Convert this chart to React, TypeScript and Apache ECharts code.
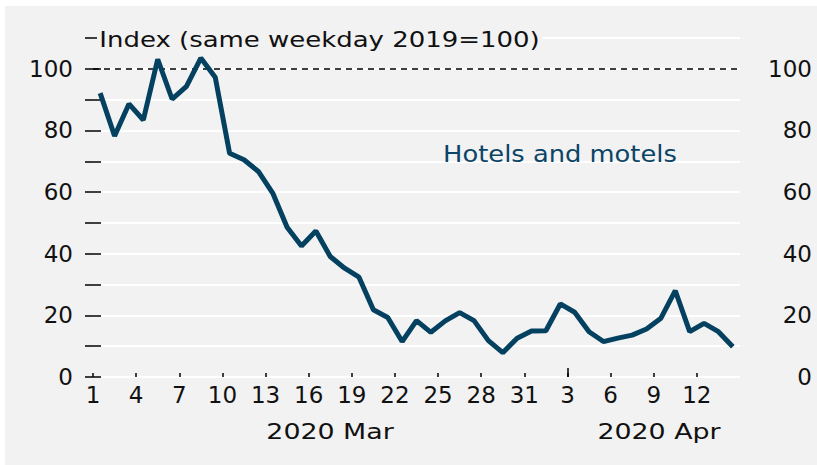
import React, { useEffect, useRef } from "react";
import * as echarts from "echarts";

const dates: string[] = [
  "2020-03-01","2020-03-02","2020-03-03","2020-03-04","2020-03-05","2020-03-06","2020-03-07","2020-03-08","2020-03-09","2020-03-10",
  "2020-03-11","2020-03-12","2020-03-13","2020-03-14","2020-03-15","2020-03-16","2020-03-17","2020-03-18","2020-03-19","2020-03-20",
  "2020-03-21","2020-03-22","2020-03-23","2020-03-24","2020-03-25","2020-03-26","2020-03-27","2020-03-28","2020-03-29","2020-03-30",
  "2020-03-31","2020-04-01","2020-04-02","2020-04-03","2020-04-04","2020-04-05","2020-04-06","2020-04-07","2020-04-08","2020-04-09",
  "2020-04-10","2020-04-11","2020-04-12","2020-04-13","2020-04-14",
];

const hotels: number[] = [
  92.1, 78.2, 88.6, 83.4, 103.1, 90.2, 94.3, 103.5, 97.3, 72.6,
  70.5, 66.7, 59.7, 48.6, 42.5, 47.4, 39.1, 35.3, 32.4, 21.8,
  19.3, 11.5, 18.3, 14.5, 18.2, 20.9, 18.3, 11.8, 7.9, 12.6,
  14.9, 15.0, 23.7, 21.0, 14.7, 11.5, 12.6, 13.6, 15.6, 19.1,
  28.0, 14.7, 17.4, 14.7, 9.8,
];

const tickDates: string[] = [
  "2020-03-01","2020-03-04","2020-03-07","2020-03-10","2020-03-13","2020-03-16","2020-03-19","2020-03-22",
  "2020-03-25","2020-03-28","2020-03-31","2020-04-03","2020-04-06","2020-04-09","2020-04-12",
];
const tickLabels: string[] = ["1","4","7","10","13","16","19","22","25","28","31","3","6","9","12"];
const monthBoundaryTick = "2020-04-03";
const monthLabels: string[] = ["2020 Mar", "2020 Apr"];
const yTickLabels: number[] = [0, 20, 40, 60, 80, 100];

const FONT = "DejaVu Sans";

export default function App() {
  const ref = useRef<HTMLDivElement>(null);
  useEffect(() => {
    if (!ref.current) return;
    const chart = echarts.init(ref.current, null, { renderer: "svg" });
    const tickPos = tickDates.map((d) => dates.indexOf(d));
    const labelMap: Record<number, string> = {};
    tickPos.forEach((p, i) => (labelMap[p] = tickLabels[i]));
    const data = hotels.map((v, i) => [i + 0.5, v]);

    const yAxisCommon = {
      type: "value" as const,
      min: 0,
      max: 110,
      interval: 10,
      axisLine: { show: false },
      axisTick: { show: true, inside: false, length: 8, lineStyle: { color: "#000", width: 1.5 } },
    };

    chart.setOption({
      animation: false,
      backgroundColor: "transparent",
      grid: { left: 88, right: 77, top: 32, bottom: 88 },
      xAxis: [
        {
          type: "value",
          min: 0,
          max: dates.length,
          axisLine: { show: false },
          splitLine: { show: false },
          axisTick: {
            show: true,
            inside: true,
            length: 4,
            customValues: tickPos,
            lineStyle: { color: "#000", width: 1.5 },
          },
          axisLabel: {
            customValues: tickPos,
            formatter: (v: number) => labelMap[v] ?? "",
            fontFamily: FONT,
            fontSize: 23,
            color: "#111",
            margin: 6,
          },
        },
        {
          type: "value",
          min: 0,
          max: dates.length,
          position: "bottom",
          axisLine: { show: false },
          splitLine: { show: false },
          axisLabel: { show: false },
          axisTick: {
            show: true,
            inside: true,
            length: 9,
            customValues: [dates.indexOf(monthBoundaryTick)],
            lineStyle: { color: "#000", width: 1.5 },
          },
        },
      ],
      yAxis: [
        {
          ...yAxisCommon,
          position: "left",
          splitLine: { show: true, lineStyle: { color: "#ffffff", width: 2 } },
          axisLabel: {
            formatter: (v: number) => (yTickLabels.includes(v) ? String(v) : ""),
            fontFamily: FONT,
            fontSize: 23,
            color: "#111",
            margin: 20,
          },
        },
        {
          ...yAxisCommon,
          position: "right",
          splitLine: { show: false },
          axisLabel: {
            formatter: (v: number) => (yTickLabels.includes(v) ? String(v) : ""),
            fontFamily: FONT,
            fontSize: 23,
            color: "#111",
            align: "right",
            margin: 72,
          },
        },
      ],
      series: [
        {
          type: "line",
          name: "Hotels and motels",
          data,
          xAxisIndex: 0,
          yAxisIndex: 0,
          showSymbol: false,
          lineStyle: { color: "#04405f", width: 5 },
          itemStyle: { color: "#04405f" },
          z: 3,
          markLine: {
            silent: true,
            symbol: ["none", "none"],
            label: { show: false },
            lineStyle: { type: [6, 5], color: "#000", width: 1.5 },
            data: [{ yAxis: 100 }],
            z: 2,
          },
        },
      ],
      graphic: [
        {
          type: "text",
          x: 92,
          y: 34,
          scaleX: 1.18,
          z: 10,
          style: {
            text: "Index (same weekday 2019=100)",
            fontFamily: FONT,
            fontSize: 22,
            fill: "#111",
            align: "left",
            verticalAlign: "middle",
            backgroundColor: "#f2f2f2",
            padding: [0, 2],
          },
        },
        {
          type: "text",
          x: 555,
          y: 148,
          scaleX: 1.12,
          z: 10,
          style: {
            text: "Hotels and motels",
            fontFamily: FONT,
            fontSize: 23,
            fill: "#0b4466",
            align: "center",
            verticalAlign: "middle",
          },
        },
        {
          type: "text",
          x: 325,
          y: 425,
          scaleX: 1.22,
          style: {
            text: monthLabels[0],
            fontFamily: FONT,
            fontSize: 22,
            fill: "#111",
            align: "center",
            verticalAlign: "middle",
          },
        },
        {
          type: "text",
          x: 654,
          y: 425,
          scaleX: 1.22,
          style: {
            text: monthLabels[1],
            fontFamily: FONT,
            fontSize: 22,
            fill: "#111",
            align: "center",
            verticalAlign: "middle",
          },
        },
      ],
    });
    return () => chart.dispose();
  }, []);

  return (
    <div style={{ position: "fixed", left: 0, top: 0, width: 817, height: 465, background: "#ffffff" }}>
      <div
        ref={ref}
        style={{ position: "absolute", left: 5, top: 6, width: 812, height: 459, background: "#f2f2f2" }}
      />
    </div>
  );
}
